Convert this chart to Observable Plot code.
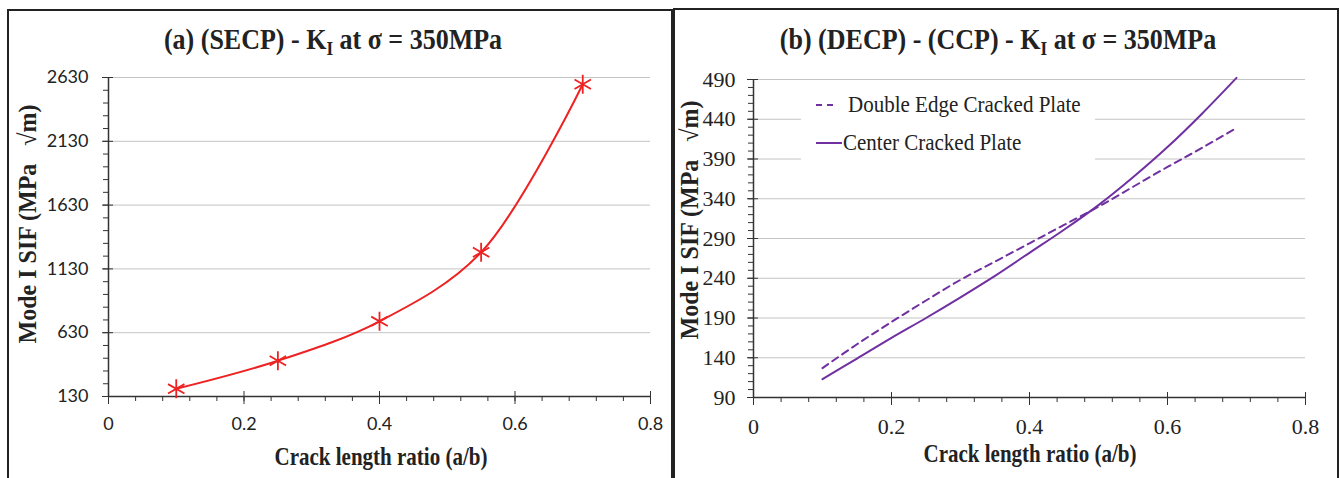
<!DOCTYPE html>
<html><head><meta charset="utf-8">
<script src="https://cdn.jsdelivr.net/npm/d3@7"></script>
<script src="https://cdn.jsdelivr.net/npm/@observablehq/plot@0.6"></script>
<style>
body{margin:0;background:#fff;width:1340px;height:478px;overflow:hidden;position:relative;font-family:"Liberation Serif","Times New Roman",serif;color:#222}
.panel{position:absolute;border:2px solid #222;box-sizing:border-box}
.title{position:absolute;font-weight:bold;font-size:26px;white-space:nowrap;transform:translate(-50%,-50%) scaleY(1.15)}
.title sub{font-size:17px;vertical-align:-5px}
.xlab{position:absolute;font-weight:bold;font-size:21px;white-space:nowrap;transform:translate(-50%,-50%) scaleY(1.15)}
.ylab{position:absolute;font-weight:bold;font-size:24px;white-space:nowrap;transform:translate(-50%,-50%) rotate(-90deg) scaleY(1.04)}
.ylab .rt{font-weight:normal;font-size:24px}
.chart{position:absolute;top:0}
.legend{position:absolute;left:801px;top:86px;width:294px;height:76px;background:#fff;font-size:21px}
.legend .item{position:absolute;white-space:nowrap;transform:translateY(-50%) scaleY(1.08);transform-origin:left center}
.legend svg{position:absolute;overflow:visible}
</style></head><body>
<div class="panel" style="left:7px;top:9px;width:666px;height:520px"></div>
<div class="panel" style="left:673px;top:8px;width:666px;height:520px"></div>
<div id="chartA" class="chart" style="left:0px"></div>
<div id="chartB" class="chart" style="left:670px"></div>
<div class="title" style="left:333px;top:42px">(a) (SECP) - K<sub>I</sub> at σ = 350MPa</div>
<div class="title" style="left:998px;top:42px">(b) (DECP) - (CCP) - K<sub>I</sub> at σ = 350MPa</div>
<div class="ylab" style="left:28px;top:224px">Mode I SIF (MPa&nbsp;&nbsp; <span class="rt">√</span>m)</div>
<div class="ylab" style="left:690px;top:220px">Mode I SIF (MPa&nbsp;&nbsp; <span class="rt">√</span>m)</div>
<div class="xlab" style="left:381px;top:458px">Crack length ratio (a/b)</div>
<div class="xlab" style="left:1030px;top:455px">Crack length ratio (a/b)</div>
<div class="legend">
  <svg style="left:15px;top:19px" width="22" height="2"><line x1="0" y1="0" x2="20" y2="0" stroke="#7030a0" stroke-width="2" stroke-dasharray="6,5"/></svg>
  <div class="item" style="left:47px;top:19px">Double Edge Cracked Plate</div>
  <svg style="left:15px;top:57px" width="26" height="2"><line x1="0" y1="0" x2="26" y2="0" stroke="#7030a0" stroke-width="2"/></svg>
  <div class="item" style="left:42px;top:57px">Center Cracked Plate</div>
</div>
<script>
// ---- data ----
const secpRatio = [0.1, 0.25, 0.4, 0.55, 0.7];
const secpK = [190, 410, 719, 1260, 2577];

const ratio = [0.1, 0.15, 0.2, 0.25, 0.3, 0.35, 0.4, 0.45, 0.5, 0.55, 0.6, 0.65, 0.7];
const decpK = [127, 157, 185, 212, 238, 261, 284, 307, 330, 355, 380, 404, 429];
const ccpK  = [113, 139, 165, 190, 216, 243, 272, 301, 332, 367, 405, 447, 492];

const yTicksA = [130, 630, 1130, 1630, 2130, 2630];
const yMinorA = d3.range(130, 2631, 100);
const yTicksB = [90, 140, 190, 240, 290, 340, 390, 440, 490];
const yMinorB = d3.range(90, 491, 10);
const xTicks = [0, 0.2, 0.4, 0.6, 0.8];
const xMinor = d3.range(0, 21).map(i => i * 0.04);

const red = "#ee2222", purple = "#7030a0";
const secpRows = secpRatio.map((r, i) => ({r, k: secpK[i]}));
const decpRows = ratio.map((r, i) => ({r, k: decpK[i]}));
const ccpRows = ratio.map((r, i) => ({r, k: ccpK[i]}));
const fmt = d => String(d);

function axes(yTicks, yMinor, yMin, tickPad, font, size) {
  const t = {fontFamily: font, fontSize: size, fill: "#222"};
  return [
    Plot.gridY(yTicks.slice(1), {stroke: "#c4c4c4", strokeOpacity: 1}),
    Plot.axisY(yMinor, {tickSize: 5, tickFormat: () => "", label: null, stroke: "#333"}),
    Plot.axisY(yTicks, {tickSize: 6, tickPadding: tickPad, tickFormat: fmt, label: null, stroke: "#333", ...t}),
    Plot.axisY(yTicks, {tickSize: 5, dx: 5, tickFormat: () => "", label: null, stroke: "#333"}),
    Plot.axisX(xMinor, {tickSize: 5, tickFormat: () => "", label: null, stroke: "#333"}),
    Plot.axisX(xTicks, {tickSize: 8, tickPadding: 13, tickFormat: fmt, label: null, stroke: "#333", ...t}),
    Plot.axisX(xTicks, {tickSize: 5, dy: -5, tickFormat: () => "", label: null, stroke: "#333"}),
    Plot.ruleX([0], {stroke: "#333", strokeWidth: 1.5}),
    Plot.ruleY([yMin], {stroke: "#333", strokeWidth: 1.5})
  ];
}

const chartA = Plot.plot({
  width: 670, height: 478,
  marginLeft: 108, marginRight: 20, marginTop: 77, marginBottom: 82,
  x: {domain: [0, 0.8]},
  y: {domain: [130, 2630]},
  style: "background: transparent; overflow: visible; font-family: Lato, 'Liberation Sans', sans-serif; font-size: 18px;",
  marks: [
    ...axes(yTicksA, yMinorA, 130, 14, "Lato, Liberation Sans, sans-serif", 18),
    Plot.line(secpRows, {x: "r", y: "k", stroke: red, strokeWidth: 2, curve: "catmull-rom"}),
    Plot.dot(secpRows, {x: "r", y: "k", symbol: "asterisk", r: 9, stroke: red, strokeWidth: 1.8})
  ]
});
document.getElementById("chartA").append(chartA);

const chartB = Plot.plot({
  width: 670, height: 478,
  marginLeft: 83, marginRight: 35, marginTop: 79, marginBottom: 81,
  x: {domain: [0, 0.8]},
  y: {domain: [90, 490]},
  style: "background: transparent; overflow: visible; font-family: 'Liberation Serif', serif; font-size: 22px;",
  marks: [
    ...axes(yTicksB, yMinorB, 90, 12, "Liberation Serif, Times New Roman, serif", 22),
    Plot.line(decpRows, {x: "r", y: "k", stroke: purple, strokeWidth: 2, strokeDasharray: "7,5", curve: "catmull-rom"}),
    Plot.line(ccpRows, {x: "r", y: "k", stroke: purple, strokeWidth: 2, curve: "catmull-rom"})
  ]
});
document.getElementById("chartB").append(chartB);
</script>
</body></html>
